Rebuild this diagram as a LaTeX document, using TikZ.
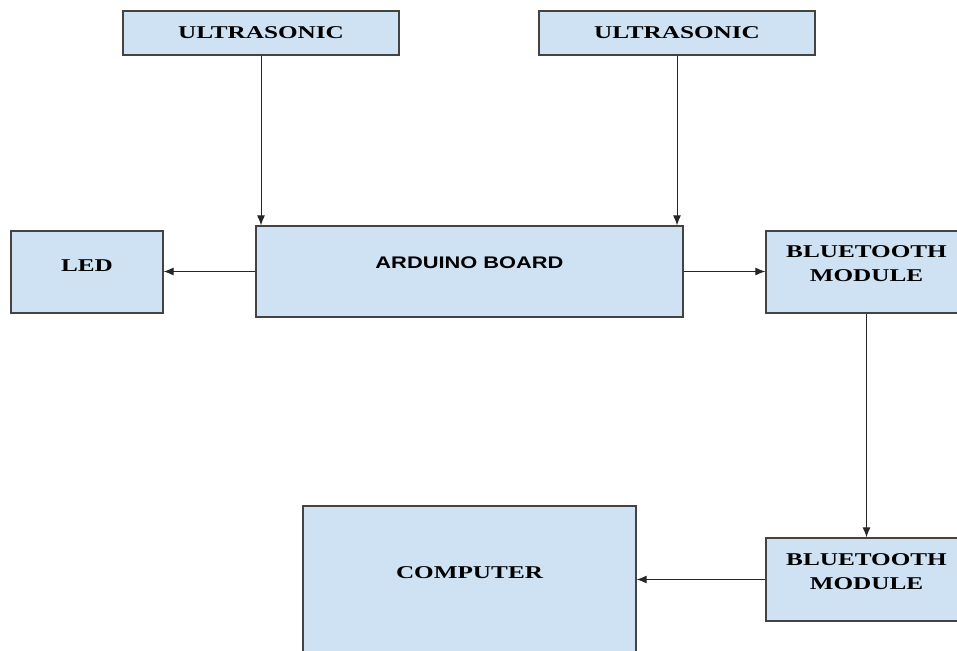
\documentclass[tikz,border=0pt]{standalone}
\usepackage{fontspec}
\usepackage{tikz}
\usetikzlibrary{arrows.meta}
\newfontfamily\boxfont[FakeStretch=1.4]{Liberation Serif}
\newfontfamily\boardfont[FakeStretch=1.3]{Liberation Sans}
\definecolor{boxblue}{HTML}{CFE2F3}
\definecolor{boxline}{HTML}{434343}
\tikzset{
	block/.style={draw=boxline, fill=boxblue, line width=1.3pt, inner sep=0pt,
		font=\boxfont\bfseries\fontsize{18}{24}\selectfont, align=center},
	conn/.style={draw=black!85, line width=1pt, -{Latex[length=10pt,width=8pt]}}
}

\begin{document}
\begin{tikzpicture}[x=1pt,y=-1pt]
	\useasboundingbox (0,0) rectangle (957,650);
	\clip (0,0) rectangle (957,650);
	%sensors
	\node (us1) [block, minimum width=276pt, minimum height=44pt] at (261,33) {ULTRASONIC};
	\node (us2) [block, minimum width=276pt, minimum height=44pt] at (677,33) {ULTRASONIC};
	\node (ard) [block, minimum width=427pt, minimum height=91pt, text depth=17pt,
		font=\boardfont\bfseries\fontsize{16.8}{20}\selectfont] at (469.5,271.5) {ARDUINO BOARD};
	\node (led) [block, minimum width=152pt, minimum height=82pt, text depth=12pt] at (87,272) {LED};
	\node (bt1) [block, minimum width=201pt, minimum height=82pt, text depth=16pt] at (866.5,272) {BLUETOOTH\\MODULE};
	\node (bt2) [block, minimum width=201pt, minimum height=83pt, text depth=16pt] at (866.5,579.5) {BLUETOOTH\\MODULE};
	\node (comp) [block, minimum width=333pt, minimum height=200pt, text depth=66pt] at (469.5,606) {COMPUTER};
	%links
	\draw[conn] (us1.south) -- (us1.south |- ard.north);
	\draw[conn] (us2.south) -- (us2.south |- ard.north);
	\draw[conn] (ard.west) -- (led.east |- ard.west);
	\draw[conn] (ard.east) -- (bt1.west |- ard.east);
	\draw[conn] (bt1.south) -- (bt2.north);
	\draw[conn] (bt2.west) -- (comp.east |- bt2.west);
\end{tikzpicture}
\end{document}
